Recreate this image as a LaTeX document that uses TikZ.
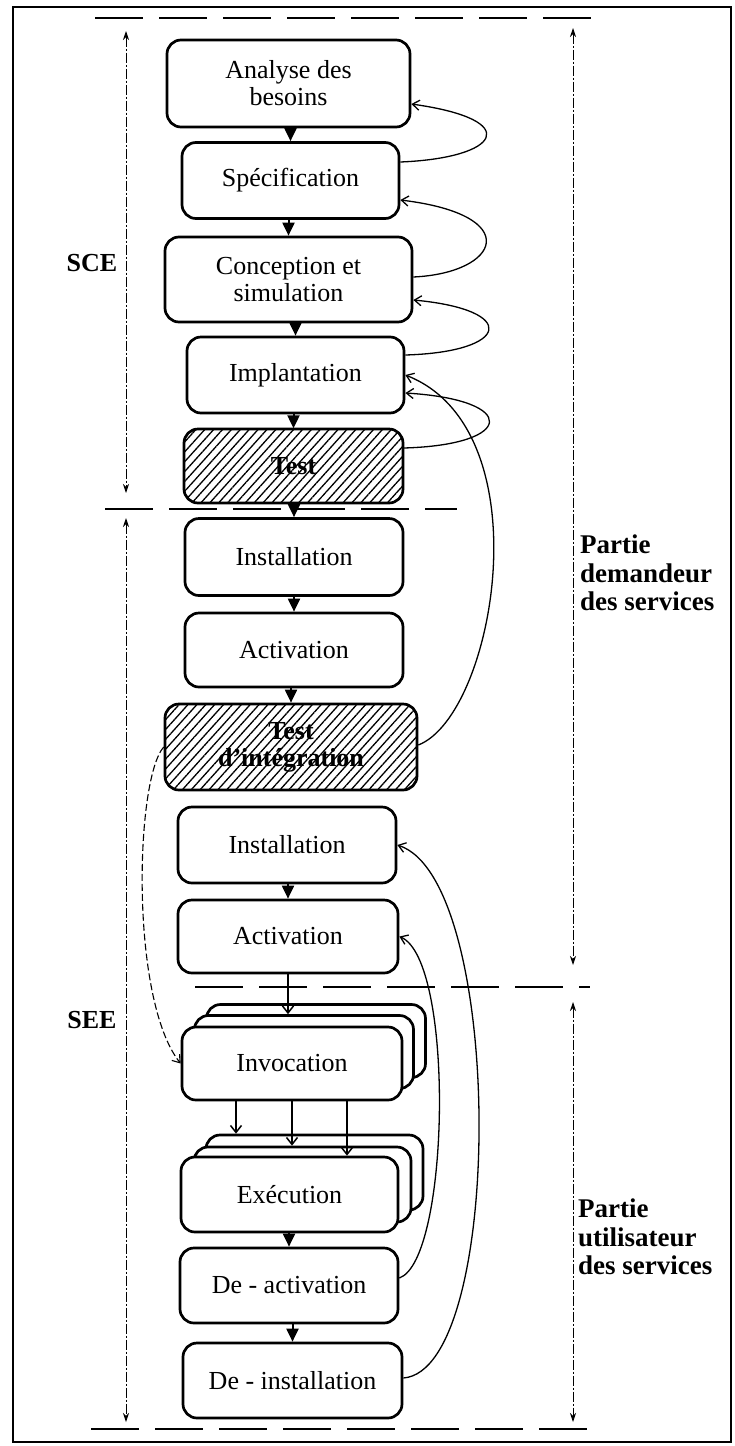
\documentclass[tikz,border=0pt]{standalone}
\usepackage{fontspec}
\setmainfont{Liberation Serif}
\usetikzlibrary{arrows.meta,patterns.meta,calc}
\newcommand\boxfont{\fontsize{26}{27}\selectfont}
\newcommand\sidefont{\fontsize{27}{28.5}\selectfont}
\begin{document}
\begin{tikzpicture}[x=1pt,y=-1pt,
 box/.style={draw, line width=2.7pt, rounded corners=14pt, fill=white, align=center, inner sep=0pt, font=\boxfont},
 hbox/.style={draw, line width=2.7pt, rounded corners=14pt, align=center, inner sep=0pt, font=\boxfont\bfseries, pattern={Lines[angle=48,distance=6.6pt,line width=1.3pt]}},
 flow/.style={line width=2pt, -{Triangle[width=12pt,length=13pt]}},
 sarrow/.style={line width=1.5pt, -{Straight Barb[length=7pt,width=11pt]}},
 loop/.style={line width=1.3pt, -{Straight Barb[length=7pt,width=10pt]}},
 dloop/.style={line width=1.1pt, dash pattern=on 7pt off 3pt, -{Straight Barb[length=7pt,width=10pt]}},
 sep/.style={line width=1.6pt, dash pattern=on 48pt off 16pt},
 span/.style={line width=0.9pt, dash pattern=on 10pt off 2pt on 2pt off 2pt, {Stealth[length=9pt,width=6pt]}-{Stealth[length=9pt,width=6pt]}},
 side/.style={font=\sidefont\bfseries, align=left, anchor=west, inner sep=0pt},
 lab/.style={font=\boxfont\bfseries, inner sep=0pt},
]
\useasboundingbox (0,0) rectangle (735,1446);
\draw[line width=2pt] (13,7) rectangle (731,1442);

% separators
\coordinate (s1a) at (95,18);   \coordinate (s1b) at (600,18);
\coordinate (s2a) at (105,509); \coordinate (s2b) at (457,509);
\coordinate (s3a) at (195,987); \coordinate (s3b) at (590,987);
\coordinate (s4a) at (91,1429); \coordinate (s4b) at (598,1429);
\draw[sep] (s1a) -- (s1b);
\draw[sep] (s2a) -- (s2b);
\draw[sep] (s3a) -- (s3b);
\draw[sep] (s4a) -- (s4b);

% span arrows
\coordinate (l1t) at (126,31);  \coordinate (l1b) at (126,493);
\coordinate (l2t) at (126,518); \coordinate (l2b) at (126,1422);
\coordinate (r1t) at (573,28);  \coordinate (r1b) at (573,965);
\coordinate (r2t) at (573,1002);\coordinate (r2b) at (573,1422);
\draw[span] (l1t) -- (l1b);
\draw[span] (l2t) -- (l2b);
\draw[span] (r1t) -- (r1b);
\draw[span] (r2t) -- (r2b);

% labels
\node[lab] (sce) at (92,263) {SCE};
\node[lab] (see) at (92,1020) {SEE};
\node[side] (pd) at (580,573) {Partie\\demandeur\\des services};
\node[side] (pu) at (578,1237) {Partie\\utilisateur\\des services};

% boxes
\node[box, minimum width=243pt, minimum height=87pt] (anal) at (288.5,83.5) {Analyse des\\besoins};
\node[box, minimum width=217pt, minimum height=76pt] (spec) at (290.5,180.5) {Spécification};
\node[box, minimum width=247pt, minimum height=85pt] (conc) at (288.5,279.5) {Conception et\\simulation};
\node[box, minimum width=217pt, minimum height=76pt] (impl) at (295.5,375) {Implantation};
\node[hbox, minimum width=219pt, minimum height=74pt] (test) at (293.5,466) {Test};
\node[box, minimum width=218pt, minimum height=77pt] (inst) at (294,557) {Installation};
\node[box, minimum width=218pt, minimum height=74pt] (act) at (294,650) {Activation};
\node[hbox, minimum width=252pt, minimum height=86pt] (tdi) at (291,747) {Test\\d'intégration};
\node[box, minimum width=218pt, minimum height=76pt] (inst2) at (287,845) {Installation};
\node[box, minimum width=220pt, minimum height=73pt] (act2) at (288,936.5) {Activation};
\node[box, minimum width=219pt, minimum height=73pt] (inv3) at (316,1041) {};
\node[box, minimum width=219pt, minimum height=73pt] (inv2) at (304,1052) {};
\node[box, minimum width=220pt, minimum height=73pt] (inv1) at (292,1063.5) {Invocation};
\node[box, minimum width=217pt, minimum height=75pt] (exec3) at (314.5,1172.5) {};
\node[box, minimum width=217pt, minimum height=75pt] (exec2) at (302.5,1184.5) {};
\node[box, minimum width=217pt, minimum height=75pt] (exec1) at (289.5,1194.5) {Exécution};
\node[box, minimum width=218pt, minimum height=75pt] (deact) at (289,1285.5) {De - activation};
\node[box, minimum width=219pt, minimum height=75pt] (deinst) at (292.5,1380.5) {De - installation};

% flow arrows
\draw[flow] (anal.south -| spec.north) -- (spec.north);
\draw[flow] (spec.south -| conc.north) -- (conc.north);
\draw[flow] (conc.south -| impl.north) -- (impl.north);
\draw[flow] (impl.south -| test.north) -- (test.north);
\draw[flow] (test.south -| inst.north) -- (inst.north);
\draw[flow] (inst.south -| act.north) -- (act.north);
\draw[flow] (act.south -| tdi.north) -- (tdi.north);
\draw[flow] (inst2.south -| act2.north) -- (act2.north);
\draw[flow] (exec1.south -| deact.north) -- (deact.north);
\draw[flow] (deact.south -| deinst.north) -- (deinst.north);
\draw[sarrow] (act2.south) -- (act2.south |- inv2.north);
\draw[sarrow] ([xshift=-56pt]inv1.south) -- ([xshift=-56pt]inv1.south |- exec3.north);
\draw[sarrow] (inv1.south) -- (inv1.south |- exec2.north);
\draw[sarrow] ([xshift=55pt]inv1.south) -- ([xshift=55pt]inv1.south |- exec1.north);

% feedback loops
\draw[loop] ($(spec.east)+(0,-18.5)$) .. controls (500,158) and (525,120) .. ($(anal.east)+(0,20.5)$);
\draw[loop] ($(conc.east)+(0,-2.5)$) .. controls (500,273) and (525,215) .. ($(spec.east)+(0,19.5)$);
\draw[loop] ($(impl.east)+(0,-20)$) .. controls (510,352) and (520,310) .. ($(conc.east)+(0,20.5)$);
\draw[loop] ($(test.east)+(0,-18)$) .. controls (515,445) and (520,400) .. ($(impl.east)+(0,18)$);
\draw[loop] ($(tdi.east)+(0,-2)$) .. controls (495,715) and (545,430) .. (impl.east);
\draw[loop] ($(deinst.east)+(0,-2.5)$) .. controls (505,1370) and (505,880) .. (inst2.east);
\draw[loop] ($(deact.east)+(0,-7.5)$) .. controls (450,1260) and (455,960) .. (act2.east);
\draw[dloop] (tdi.west) .. controls (135,780) and (130,1000) .. (inv1.west);
\end{tikzpicture}
\end{document}
